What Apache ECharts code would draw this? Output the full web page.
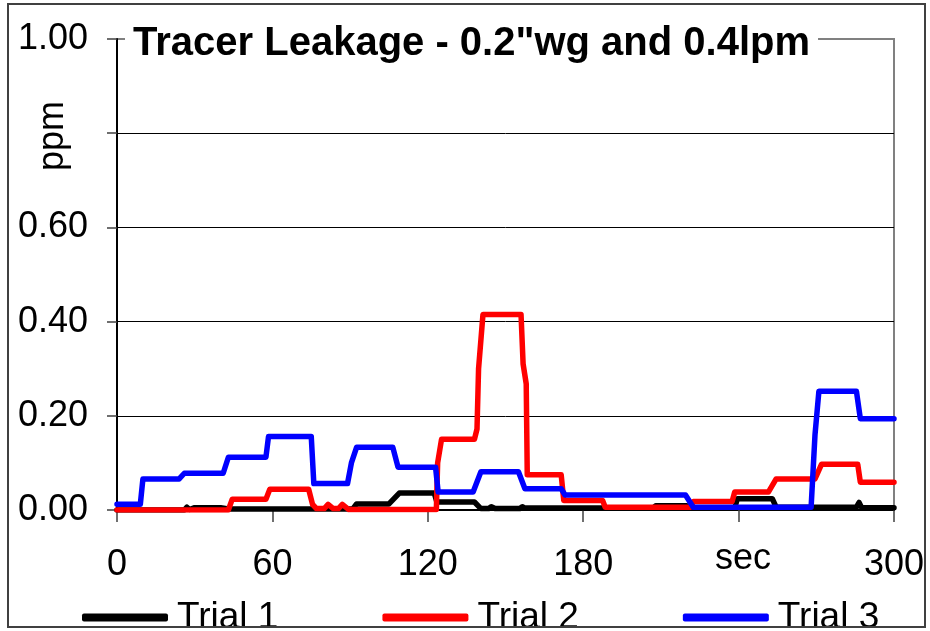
<!DOCTYPE html>
<html>
<head>
<meta charset="utf-8">
<script src="https://cdn.jsdelivr.net/npm/echarts@6/dist/echarts.min.js"></script>
<style>
html,body{margin:0;padding:0;background:#fff;}
#chart{width:930px;height:631px;}
</style>
</head>
<body>
<div id="chart"></div>
<script>
// ---- data ----
const titleText = 'Tracer Leakage - 0.2"wg and 0.4lpm';
const seriesNames = ['Trial 1', 'Trial 2', 'Trial 3'];
const xTicks = [0, 60, 120, 180, 240, 300];
const yTicks = [0, 0.2, 0.4, 0.6, 0.8, 1.0];

const trial1Sec = [0, 26, 27, 28, 30, 40, 43, 91, 92.5, 105, 109, 122.5, 123.5, 138, 140.5, 143.5, 144.5, 146, 155.5, 156.5, 157.5, 207, 208, 220, 221, 238.5, 239.5, 253, 254.5, 285.5, 286.5, 287.5, 300];
const trial1Ppm = [0, 0, 0.006, 0.001, 0.005, 0.005, 0.002, 0.002, 0.013, 0.013, 0.036, 0.036, 0.017, 0.017, 0.003, 0.003, 0.007, 0.003, 0.003, 0.007, 0.004, 0.004, 0.009, 0.009, 0.004, 0.004, 0.024, 0.024, 0.006, 0.006, 0.016, 0.005, 0.005];

const trial2Sec = [0, 43, 44.5, 57.5, 59, 74, 75.5, 77, 80, 81.5, 83.5, 85.5, 87, 89.5, 123.3, 123.8, 125.3, 138, 139, 139.6, 141.3, 156, 156.8, 158, 158.4, 171.5, 172.5, 187.5, 188.5, 221.5, 222.5, 237.5, 238.5, 251.5, 254.5, 269.5, 272, 286, 287, 300];
const trial2Ppm = [0, 0, 0.023, 0.023, 0.044, 0.044, 0.012, 0.003, 0.003, 0.012, 0.003, 0.003, 0.012, 0.001, 0.001, 0.1, 0.15, 0.15, 0.172, 0.3, 0.415, 0.415, 0.31, 0.268, 0.075, 0.075, 0.02, 0.02, 0.006, 0.006, 0.018, 0.018, 0.038, 0.038, 0.066, 0.066, 0.097, 0.097, 0.059, 0.059];

const trial3Sec = [0, 9, 10, 24, 26, 41, 43, 57.5, 58.5, 75, 76, 89, 90.5, 92.5, 106.5, 108.5, 123, 124, 137.5, 140.5, 155, 157.5, 171.5, 173, 219.5, 222.5, 268, 269.5, 271, 285.5, 287, 300];
const trial3Ppm = [0.012, 0.012, 0.066, 0.066, 0.078, 0.078, 0.112, 0.112, 0.156, 0.156, 0.056, 0.056, 0.1, 0.133, 0.133, 0.091, 0.091, 0.038, 0.038, 0.081, 0.081, 0.045, 0.045, 0.032, 0.032, 0.006, 0.006, 0.16, 0.252, 0.252, 0.194, 0.194];

const seriesColors = ['#000000', '#ff0000', '#0000ff'];

function pairs(xs, ys) { return xs.map((x, i) => [x, ys[i]]); }
const allData = [pairs(trial1Sec, trial1Ppm), pairs(trial2Sec, trial2Ppm), pairs(trial3Sec, trial3Ppm)];

const FONT = "'Liberation Sans', Arial, sans-serif";
const chart = echarts.init(document.getElementById('chart'), null, {renderer: 'canvas'});

const option = {
  animation: false,
  backgroundColor: '#ffffff',
  title: {
    text: titleText,
    left: 125, top: 21,
    padding: [3, 8, 3, 8],
    backgroundColor: '#ffffff',
    textStyle: {fontFamily: FONT, fontSize: 40, fontWeight: 'bold', color: '#000'}
  },
  legend: {
    data: seriesNames,
    left: 77, top: 594,
    icon: 'roundRect',
    itemWidth: 86, itemHeight: 8, itemGap: 104,
    textStyle: {fontFamily: FONT, fontSize: 37, color: '#000', padding: [0, 0, 0, 4]}
  },
  grid: {
    left: 117, right: 36, top: 39, bottom: 121,
    show: true, borderColor: '#808080', borderWidth: 2, backgroundColor: '#ffffff'
  },
  xAxis: {
    type: 'value', min: xTicks[0], max: xTicks[xTicks.length - 1], interval: 60,
    axisLine: {show: true, lineStyle: {color: '#000', width: 2}},
    axisTick: {show: true, inside: false, length: 12, lineStyle: {color: '#404040', width: 1.5}},
    axisLabel: {
      margin: 37, fontFamily: FONT, fontSize: 36, color: '#000',
      formatter: v => (v === 240 ? '' : String(v))
    },
    splitLine: {show: false}
  },
  yAxis: {
    type: 'value', min: yTicks[0], max: yTicks[yTicks.length - 1], interval: 0.2,
    axisLine: {show: true, lineStyle: {color: '#000', width: 2}},
    axisTick: {show: true, inside: false, length: 10, lineStyle: {color: '#404040', width: 1.5}},
    axisLabel: {
      margin: 29, fontFamily: FONT, fontSize: 36, color: '#000',
      formatter: v => (Math.abs(v - 0.8) < 1e-6 ? '' : v.toFixed(2))
    },
    splitLine: {show: true, showMinLine: false, showMaxLine: false, lineStyle: {color: '#000', width: 1}}
  },
  graphic: [
    {type: 'rect', z: 100, silent: true,
     shape: {x: 8, y: 4, width: 917, height: 623},
     style: {fill: 'none', stroke: '#404040', lineWidth: 2}},
    {type: 'text', z: 100, x: 53, y: 136, rotation: Math.PI / 2,
     style: {text: 'ppm', fontFamily: FONT, fontSize: 36, fill: '#000', align: 'center', verticalAlign: 'middle'}},
    {type: 'text', z: 100, x: 743, y: 559,
     style: {text: 'sec', fontFamily: FONT, fontSize: 36, fill: '#000', align: 'center', verticalAlign: 'middle'}}
  ],
  series: seriesNames.map((name, i) => ({
    name: name,
    type: 'line',
    data: allData[i],
    showSymbol: false,
    symbol: 'none',
    color: seriesColors[i],
    lineStyle: {color: seriesColors[i], width: 5.5, cap: 'round', join: 'round'},
    z: 2 + i
  }))
};
chart.setOption(option);
</script>
</body>
</html>
